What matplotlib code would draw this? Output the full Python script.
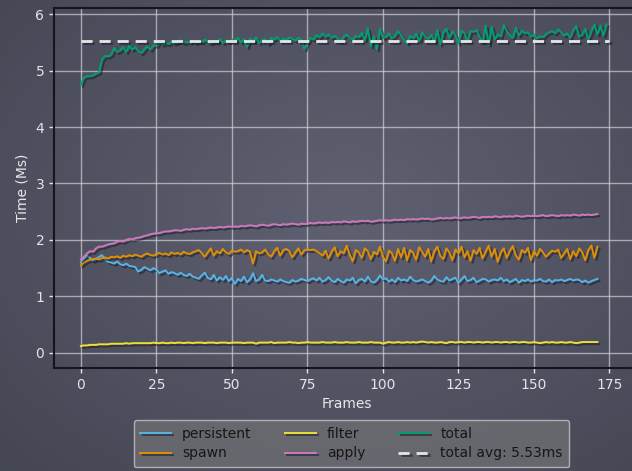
import numpy as np
import matplotlib
matplotlib.use("Agg")
import matplotlib.pyplot as plt
import matplotlib.patheffects as pe

# Per-frame timings (ms)
persistent = [
    1.60, 1.66, 1.72, 1.68, 1.63, 1.66, 1.70, 1.73, 1.65, 1.61,
    1.60, 1.58, 1.62, 1.57, 1.55, 1.58, 1.54, 1.53, 1.52, 1.44,
    1.47, 1.52, 1.49, 1.46, 1.50, 1.47, 1.41, 1.44, 1.46, 1.40,
    1.43, 1.41, 1.38, 1.42, 1.38, 1.36, 1.40, 1.35, 1.33, 1.31,
    1.37, 1.42, 1.33, 1.30, 1.38, 1.28, 1.34, 1.29, 1.36, 1.27,
    1.33, 1.22, 1.31, 1.27, 1.35, 1.25, 1.30, 1.41, 1.27, 1.30,
    1.38, 1.28, 1.27, 1.30, 1.28, 1.26, 1.30, 1.27, 1.25, 1.24,
    1.29, 1.26, 1.28, 1.31, 1.29, 1.27, 1.30, 1.32, 1.28, 1.33,
    1.26, 1.29, 1.34, 1.28, 1.25, 1.31, 1.27, 1.24, 1.30, 1.28,
    1.33, 1.23, 1.29, 1.31, 1.26, 1.35, 1.27, 1.24, 1.29, 1.37,
    1.30, 1.32, 1.26, 1.30, 1.25, 1.33, 1.28, 1.30, 1.27, 1.35,
    1.29, 1.26, 1.28, 1.30, 1.27, 1.24, 1.28, 1.36, 1.30, 1.27,
    1.26, 1.34, 1.28, 1.31, 1.33, 1.24, 1.30, 1.36, 1.27, 1.29,
    1.33, 1.25, 1.28, 1.31, 1.30, 1.26, 1.29, 1.30, 1.28, 1.33,
    1.27, 1.30, 1.25, 1.28, 1.31, 1.24, 1.29, 1.27, 1.30, 1.26,
    1.29, 1.28, 1.31, 1.27, 1.26, 1.30, 1.25, 1.29, 1.28, 1.30,
    1.27, 1.29, 1.31, 1.28, 1.30, 1.29, 1.25, 1.28, 1.24, 1.27,
    1.29, 1.31,
]

spawn = [
    1.55, 1.60, 1.63, 1.65, 1.66, 1.67, 1.65, 1.68, 1.69, 1.67,
    1.70, 1.69, 1.71, 1.68, 1.72, 1.70, 1.73, 1.71, 1.74, 1.72,
    1.70, 1.74, 1.76, 1.73, 1.72, 1.75, 1.77, 1.74, 1.76, 1.73,
    1.78, 1.75, 1.77, 1.74, 1.79, 1.76, 1.75, 1.78, 1.80, 1.82,
    1.77, 1.70, 1.78, 1.85, 1.72, 1.80, 1.76, 1.84, 1.78, 1.75,
    1.81, 1.79, 1.80, 1.83, 1.78, 1.82, 1.79, 1.58, 1.80, 1.76,
    1.78, 1.83, 1.75, 1.70, 1.80, 1.86, 1.72, 1.82, 1.84, 1.80,
    1.69, 1.78, 1.85, 1.74, 1.82, 1.83, 1.82, 1.83, 1.80, 1.76,
    1.72, 1.81, 1.67, 1.79, 1.87, 1.71, 1.80, 1.76, 1.90, 1.74,
    1.62, 1.82, 1.78, 1.68, 1.85, 1.80, 1.66, 1.79, 1.74, 1.88,
    1.70, 1.62, 1.81, 1.76, 1.63, 1.84, 1.69, 1.86, 1.64, 1.82,
    1.77, 1.65, 1.87, 1.79, 1.70, 1.84, 1.62, 1.80, 1.88, 1.72,
    1.66, 1.85, 1.78, 1.64, 1.83, 1.76, 1.88, 1.69, 1.80, 1.63,
    1.82, 1.75, 1.86, 1.67, 1.79, 1.90, 1.70, 1.84, 1.61, 1.78,
    1.85, 1.68, 1.81, 1.89, 1.73, 1.65, 1.82, 1.77, 1.86, 1.64,
    1.80, 1.72, 1.84, 1.78, 1.70, 1.76, 1.81, 1.79, 1.83, 1.68,
    1.76, 1.84, 1.66, 1.80, 1.71, 1.85, 1.78, 1.64, 1.82, 1.90,
    1.68, 1.88,
]

filter_ms = [
    0.12, 0.13, 0.13, 0.14, 0.14, 0.14, 0.15, 0.15, 0.15, 0.15,
    0.16, 0.16, 0.16, 0.16, 0.16, 0.17, 0.16, 0.17, 0.17, 0.17,
    0.17, 0.17, 0.17, 0.17, 0.18, 0.17, 0.17, 0.18, 0.17, 0.17,
    0.18, 0.17, 0.18, 0.18, 0.17, 0.18, 0.18, 0.17, 0.18, 0.18,
    0.18, 0.17, 0.18, 0.18, 0.18, 0.17, 0.18, 0.18, 0.18, 0.17,
    0.18, 0.18, 0.18, 0.18, 0.17, 0.18, 0.18, 0.18, 0.16, 0.18,
    0.18, 0.18, 0.18, 0.19, 0.17, 0.18, 0.18, 0.18, 0.18, 0.19,
    0.18, 0.18, 0.17, 0.18, 0.18, 0.19, 0.18, 0.18, 0.18, 0.18,
    0.19, 0.18, 0.18, 0.18, 0.19, 0.18, 0.18, 0.18, 0.19, 0.18,
    0.18, 0.18, 0.19, 0.18, 0.18, 0.18, 0.19, 0.18, 0.18, 0.18,
    0.16, 0.18, 0.19, 0.18, 0.18, 0.19, 0.18, 0.18, 0.19, 0.18,
    0.19, 0.18, 0.19, 0.20, 0.19, 0.18, 0.19, 0.18, 0.18, 0.19,
    0.18, 0.17, 0.19, 0.19, 0.18, 0.19, 0.19, 0.18, 0.19, 0.19,
    0.18, 0.19, 0.19, 0.18, 0.19, 0.19, 0.18, 0.19, 0.19, 0.18,
    0.19, 0.19, 0.18, 0.19, 0.19, 0.18, 0.19, 0.19, 0.18, 0.18,
    0.19, 0.18, 0.17, 0.18, 0.19, 0.18, 0.19, 0.18, 0.18, 0.19,
    0.18, 0.18, 0.19, 0.18, 0.17, 0.18, 0.19, 0.19, 0.19, 0.19,
    0.19, 0.19,
]

apply_ms = [
    1.65, 1.70, 1.76, 1.80, 1.79, 1.85, 1.88, 1.88, 1.90, 1.92,
    1.93, 1.94, 1.97, 1.98, 1.97, 2.00, 2.02, 2.01, 2.03, 2.04,
    2.05, 2.07, 2.08, 2.10, 2.11, 2.12, 2.12, 2.14, 2.15, 2.15,
    2.16, 2.17, 2.17, 2.16, 2.18, 2.19, 2.18, 2.20, 2.19, 2.20,
    2.21, 2.20, 2.21, 2.22, 2.21, 2.22, 2.23, 2.22, 2.23, 2.24,
    2.23, 2.24, 2.23, 2.25, 2.24, 2.25, 2.26, 2.25, 2.24, 2.26,
    2.27, 2.26, 2.25, 2.27, 2.28, 2.27, 2.26, 2.28, 2.27, 2.28,
    2.29, 2.28, 2.27, 2.29, 2.28, 2.29, 2.30, 2.29, 2.30, 2.31,
    2.30, 2.31, 2.30, 2.32, 2.31, 2.32, 2.31, 2.33, 2.32, 2.31,
    2.33, 2.32, 2.33, 2.34, 2.33, 2.34, 2.32, 2.33, 2.34, 2.35,
    2.34, 2.35, 2.34, 2.35, 2.36, 2.35, 2.36, 2.35, 2.37, 2.36,
    2.37, 2.36, 2.37, 2.38, 2.37, 2.38, 2.36, 2.37, 2.38, 2.39,
    2.38, 2.39, 2.38, 2.39, 2.40, 2.38, 2.39, 2.40, 2.39, 2.40,
    2.41, 2.40, 2.39, 2.41, 2.40, 2.41, 2.40, 2.42, 2.41, 2.40,
    2.42, 2.41, 2.42, 2.41, 2.43, 2.42, 2.41, 2.42, 2.43, 2.42,
    2.43, 2.42, 2.43, 2.44, 2.42, 2.43, 2.44, 2.43, 2.42, 2.44,
    2.43, 2.44, 2.43, 2.45, 2.44, 2.43, 2.45, 2.44, 2.45, 2.44,
    2.45, 2.46,
]

total = [
    4.75, 4.88, 4.90, 4.90, 4.92, 4.95, 4.97, 5.20, 5.26, 5.25,
    5.28, 5.40, 5.33, 5.36, 5.42, 5.33, 5.44, 5.37, 5.42, 5.35,
    5.31, 5.38, 5.43, 5.37, 5.45, 5.44, 5.51, 5.46, 5.49, 5.47,
    5.52, 5.48, 5.50, 5.54, 5.49, 5.51, 5.50, 5.53, 5.49, 5.52,
    5.50, 5.55, 5.51, 5.48, 5.52, 5.50, 5.56, 5.49, 5.53, 5.51,
    5.55, 5.53, 5.58, 5.50, 5.56, 5.42, 5.57, 5.52, 5.59, 5.49,
    5.54, 5.56, 5.47, 5.58, 5.55, 5.60, 5.52, 5.57, 5.54, 5.59,
    5.56, 5.53, 5.58, 5.55, 5.38, 5.52, 5.58, 5.55, 5.63, 5.59,
    5.66, 5.60, 5.64, 5.58, 5.62, 5.57, 5.51, 5.60, 5.64, 5.58,
    5.55, 5.62, 5.59, 5.67, 5.54, 5.75, 5.43, 5.61, 5.38, 5.74,
    5.58, 5.60, 5.66, 5.57, 5.62, 5.70, 5.63, 5.55, 5.48, 5.62,
    5.57, 5.66, 5.52, 5.68, 5.60, 5.56, 5.64, 5.51, 5.72, 5.46,
    5.68, 5.74, 5.58, 5.70, 5.63, 5.48, 5.71, 5.66, 5.52, 5.70,
    5.69, 5.72, 5.60, 5.50, 5.80, 5.46, 5.78, 5.55, 5.64, 5.60,
    5.81, 5.70, 5.63, 5.58, 5.76, 5.62, 5.71, 5.66, 5.68, 5.60,
    5.64, 5.57, 5.61, 5.59, 5.65, 5.68, 5.70, 5.66, 5.73, 5.68,
    5.62, 5.66, 5.58, 5.72, 5.79, 5.60, 5.64, 5.74, 5.55, 5.70,
    5.82, 5.64, 5.80, 5.62, 5.82,
]

total_avg = 5.53

series_names = ["persistent", "spawn", "filter", "apply", "total"]
series_colors = ["#56b4e9", "#de8f05", "#ece133", "#cc78bc", "#029e73"]

W, H = 632, 471
fig = plt.figure(figsize=(W / 100, H / 100), dpi=100)
fig.patch.set_facecolor("#4d4f5e")

# Radial backdrop behind the whole figure
bg = fig.add_axes([0, 0, 1, 1], zorder=-10)
yy, xx = np.mgrid[0:1:300j, 0:1:400j]
r = np.sqrt(((xx - 0.55) / 0.75) ** 2 + ((yy - 0.45) / 0.75) ** 2)
r = np.clip(r, 0, 1)
c_in = np.array([0x5f, 0x61, 0x72]) / 255.0
c_out = np.array([0x45, 0x47, 0x55]) / 255.0
img = c_in[None, None, :] * (1 - r[..., None]) + c_out[None, None, :] * r[..., None]
bg.imshow(img, aspect="auto", extent=[0, 1, 0, 1], origin="upper")
bg.axis("off")

ax_left = 54 / W
ax_right = 640 / W
ax_bottom = (H - 368) / H
ax_top = (H - 8) / H
ax = fig.add_axes([ax_left, ax_bottom, ax_right - ax_left, ax_top - ax_bottom])
ax.set_facecolor("none")

shadow = [pe.SimpleLineShadow(offset=(1.5, -1.5), shadow_color="#1a1b22", alpha=0.55),
          pe.Normal()]

data = [persistent, spawn, filter_ms, apply_ms]
for name, vals, col in zip(series_names[:4], data, series_colors[:4]):
    ax.plot(np.arange(len(vals)), vals, color=col, lw=1.4, label=name,
            path_effects=shadow)
ax.plot(np.arange(len(total)), total, color=series_colors[4], lw=1.4,
        label="total", path_effects=shadow)
ax.plot([0, len(total)], [total_avg, total_avg], color="#e6e6e6", lw=2,
        ls=(0, (4, 2.5)), label=f"total avg: {total_avg:.2f}ms",
        path_effects=shadow)

ax.set_xlim(-8.9, 185.1)
ax.set_ylim(-0.27, 6.11)
ax.set_xticks(np.arange(0, 176, 25))
ax.set_yticks(np.arange(0, 7, 1))

ax.grid(True, color="#d0d0d6", alpha=0.7, lw=1.0)
ax.set_axisbelow(True)
for side in ["left", "top", "bottom", "right"]:
    ax.spines[side].set_color("#15161b")
    ax.spines[side].set_linewidth(1.5)

ax.tick_params(colors="#e4e4e8", labelsize=10, length=3.5, width=1)
ax.set_xlabel("Frames", color="#e8e8ec", fontsize=10)
ax.set_ylabel("Time (Ms)", color="#e8e8ec", fontsize=10)

leg = ax.legend(loc="upper center", bbox_to_anchor=(351.5 / W, 1 - 420 / H),
                bbox_transform=fig.transFigure, ncol=3, fontsize=10,
                frameon=True, fancybox=True, columnspacing=2.4,
                handlelength=2.2, borderpad=0.5, labelspacing=0.4,
                borderaxespad=0)
frame = leg.get_frame()
frame.set_facecolor("#6a6a70")
frame.set_alpha(0.9)
frame.set_edgecolor("#b8b8be")
for t in leg.get_texts():
    t.set_color("#161616")

fig.savefig("out.png", dpi=100)
